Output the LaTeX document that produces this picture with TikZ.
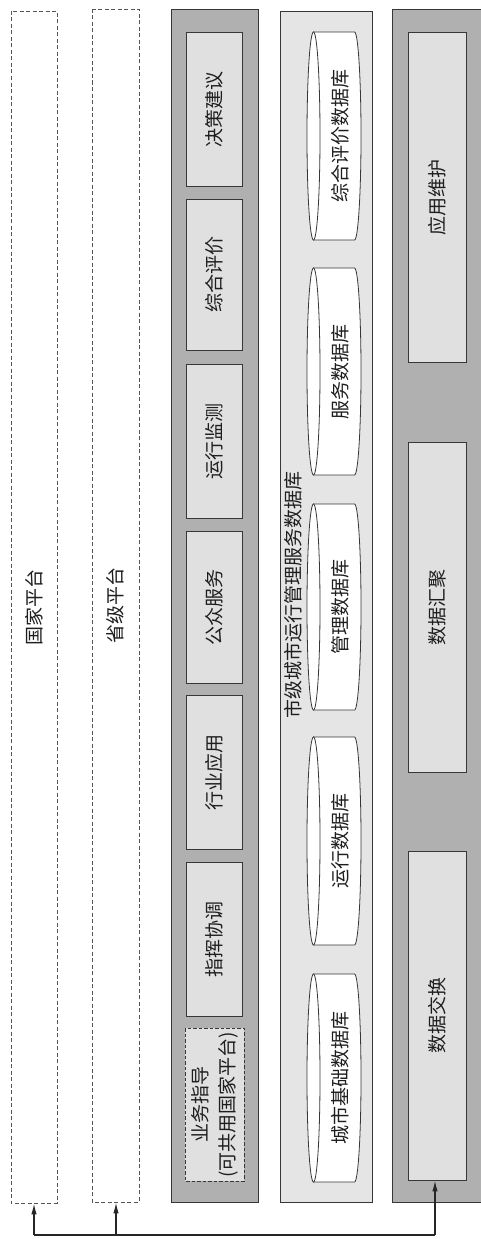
\documentclass[tikz,border=0pt]{standalone}
\usepackage{fontspec}
\newfontfamily\cjk{Noto Sans CJK SC}
\usetikzlibrary{arrows.meta}
\definecolor{dkgray}{RGB}{176,176,176}
\definecolor{ltbox}{RGB}{224,224,224}
\definecolor{ltcol}{RGB}{229,229,229}
\definecolor{bdr}{RGB}{55,55,55}
\definecolor{dashc}{RGB}{85,85,85}
\definecolor{txt}{RGB}{30,30,30}
\tikzset{
  lay/.style={draw=bdr, line width=0.9pt, rotate=90, inner sep=0pt, anchor=center,
    text=txt, font=\cjk\fontsize{19}{27}\selectfont, align=center},
  darkcol/.style={lay, fill=dkgray},
  lightcol/.style={lay, fill=ltcol},
  plat/.style={lay, draw=dashc, dash pattern=on 4pt off 2.5pt, fill=white},
  appbox/.style={lay, fill=ltbox},
  dashbox/.style={lay, fill=ltbox, dash pattern=on 3.5pt off 2pt},
  cylbody/.style={draw=bdr, line width=0.8pt, fill=white},
  cyltext/.style={rotate=90, inner sep=0pt, text=txt, font=\cjk\fontsize{19}{25}\selectfont},
  busline/.style={draw=black!85, line width=1.3pt},
  arr/.style={draw=black!85, line width=1.3pt, -{Latex[length=11pt,width=5.5pt]}}
}
\newcommand{\mycyl}[3]{%
  % #1 name, #2 top y, #3 bottom y
  \pgfmathsetmacro{\cm}{(#2+#3)/2}%
  \pgfmathsetmacro{\cr}{(#3-#2)/2}%
  \path[cylbody] (313.5,#2) -- (354.5,#2)
     arc[start angle=90, end angle=-90, x radius=6.5pt, y radius=\cr pt]
     -- (313.5,#3) -- cycle;
  \path[cylbody] (313.5,\cm) ellipse[x radius=6.5pt, y radius=\cr pt];
}
\begin{document}
\begin{tikzpicture}[x=1pt,y=-1pt]
\fill[white] (0,0) rectangle (480,1239);
\useasboundingbox (0,0) rectangle (480,1239);

% platform columns
\node[plat, minimum width=1192pt, minimum height=46pt] (gj) at (34,607) {国家平台};
\node[plat, minimum width=1193pt, minimum height=47pt] (sj) at (115.5,605.5) {省级平台};

% application layer
\node[darkcol, minimum width=1193pt, minimum height=87pt] (app) at (214.5,605.5) {};
\node[appbox, minimum width=154pt, minimum height=56pt] (jcjy) at (214,109) {决策建议};
\node[appbox, minimum width=151pt, minimum height=56pt] (zhpj) at (214,274.5) {综合评价};
\node[appbox, minimum width=154pt, minimum height=56pt] (yxjc) at (214,441) {运行监测};
\node[appbox, minimum width=152pt, minimum height=56pt] (gzfw) at (214,607) {公众服务};
\node[appbox, minimum width=154pt, minimum height=56pt] (hyyy) at (214,772) {行业应用};
\node[appbox, minimum width=154pt, minimum height=56pt] (zhxt) at (214,939) {指挥协调};
\node[dashbox, minimum width=153pt, minimum height=59pt] (ywzd) at (214.5,1104.5) {业务指导\\(可共用国家平台)};

% database layer
\node[lightcol, minimum width=1191pt, minimum height=92pt] (db) at (326,606.5) {};
\node[cyltext] (dblabel) at (293,595) {市级城市运行管理服务数据库};
\mycyl{c1}{32}{240}
\node[cyltext] (zhpjdb) at (340.5,136) {综合评价数据库};
\mycyl{c2}{268}{475}
\node[cyltext] (fwdb) at (340.5,371.5) {服务数据库};
\mycyl{c3}{504}{710}
\node[cyltext] (gldb) at (340.5,607) {管理数据库};
\mycyl{c4}{737}{945}
\node[cyltext] (yxdb) at (340.5,841) {运行数据库};
\mycyl{c5}{974}{1182}
\node[cyltext] (csjcdb) at (340.5,1078) {城市基础数据库};

% support layer
\node[darkcol, minimum width=1193pt, minimum height=90pt] (sup) at (437,605.5) {};
\node[appbox, minimum width=330pt, minimum height=58pt] (yywh) at (437,197) {应用维护};
\node[appbox, minimum width=330pt, minimum height=58pt] (sjhj) at (437,607) {数据汇聚};
\node[appbox, minimum width=329pt, minimum height=58pt] (sjjh) at (437,1015.5) {数据交换};

% connectors
\coordinate (bus) at (0,1235);
\coordinate (b1) at (gj.west |- bus);
\coordinate (b2) at ([xshift=0.5pt]sj.west |- bus);
\coordinate (b3) at ([xshift=-2pt]sjjh.west |- bus);
\draw[busline] (b1) -- (b3);
\draw[arr] (b1) -- (gj.west);
\draw[arr] (b2) -- (b2 |- sj.west);
\draw[arr] (b3) -- (b3 |- sjjh.west);
\end{tikzpicture}
\end{document}
